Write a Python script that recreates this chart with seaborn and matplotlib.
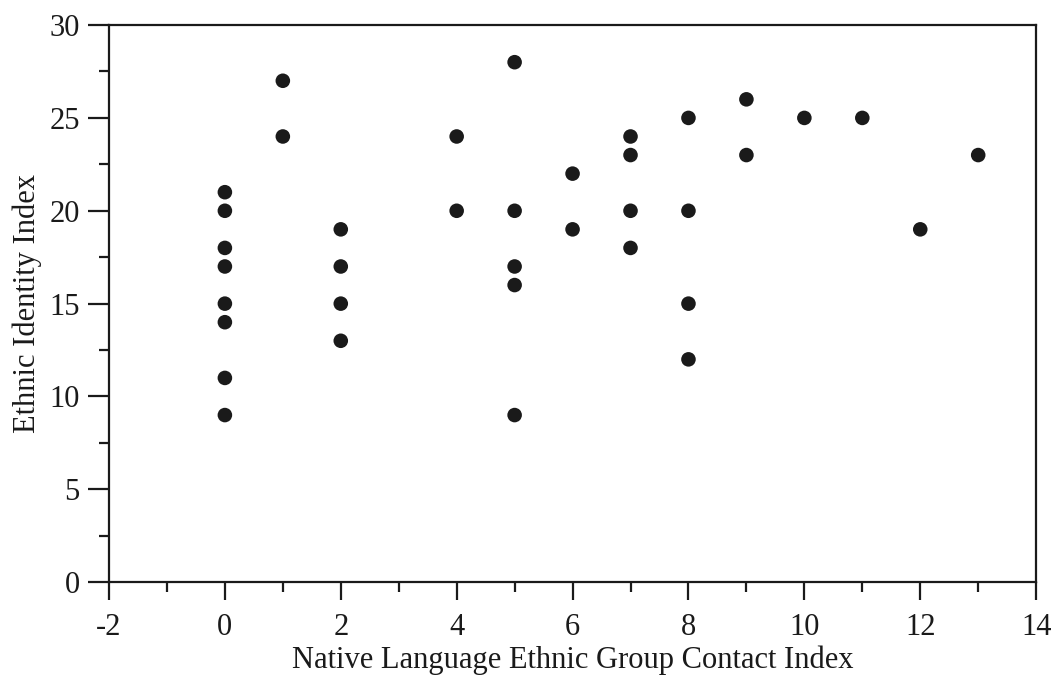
import matplotlib
matplotlib.use('Agg')
import matplotlib.pyplot as plt
from matplotlib.ticker import MultipleLocator
import pandas as pd
import seaborn as sb

# contact index (x) and ethnic identity index (y)
contact = [0, 0, 0, 0, 0, 0, 0, 0,
           1, 1,
           2, 2, 2, 2,
           4, 4,
           5, 5, 5, 5, 5,
           6, 6,
           7, 7, 7, 7,
           8, 8, 8, 8,
           9, 9,
           10, 11, 12, 13]
identity = [21, 20, 18, 17, 15, 14, 11, 9,
            27, 24,
            19, 17, 15, 13,
            24, 20,
            28, 20, 17, 16, 9,
            22, 19,
            24, 23, 20, 18,
            25, 20, 15, 12,
            26, 23,
            25, 25, 19, 23]

df = pd.DataFrame({"contact": contact, "identity": identity})

sb.set_style("white")
plt.rcParams["font.family"] = ["Liberation Serif", "DejaVu Serif"]
plt.rcParams["axes.unicode_minus"] = False

fig = plt.figure(figsize=(10.53, 6.77), dpi=100)
ax = fig.add_axes([0.1035, 0.140, 0.8805, 0.823])

sb.scatterplot(data=df, x="contact", y="identity", ax=ax, color="#1a1a1a",
               s=110, edgecolor="none", linewidth=0)

ax.set_xlim(-2, 14)
ax.set_ylim(0, 30)
ax.xaxis.set_major_locator(MultipleLocator(2))
ax.xaxis.set_minor_locator(MultipleLocator(1))
ax.yaxis.set_major_locator(MultipleLocator(5))
ax.yaxis.set_minor_locator(MultipleLocator(2.5))

for side in ax.spines.values():
    side.set_color("#1a1a1a")
    side.set_linewidth(1.6)

ax.tick_params(axis="x", which="major", direction="out", length=13, width=1.6,
               colors="#1a1a1a", labelsize=22, pad=9, bottom=True, top=False)
ax.tick_params(axis="y", which="major", direction="out", length=15, width=1.6,
               colors="#1a1a1a", labelsize=22, pad=6, left=True, right=False)
ax.tick_params(axis="both", which="minor", direction="out", length=7, width=1.6,
               colors="#1a1a1a", bottom=True, left=True, top=False, right=False)

ax.set_xlabel("Native Language Ethnic Group Contact Index", fontsize=22, color="#1a1a1a", labelpad=3)
ax.set_ylabel("Ethnic Identity Index", fontsize=22, color="#1a1a1a", labelpad=5)

fig.savefig("out.png", dpi=100)
